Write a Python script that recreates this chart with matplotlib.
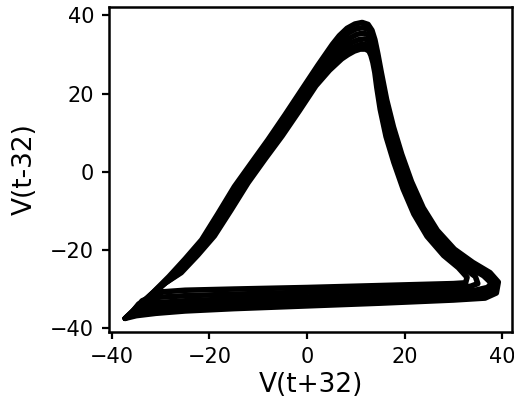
import matplotlib
matplotlib.use("Agg")
import matplotlib.pyplot as plt

# delay-embedded voltage traces (one list per cycle)
trace1_x = [-37.3, -34.5, -31.5, -28.3, -25.0, -21.6, -18.3, -14.9, -11.4, -8.0, -4.5, -1.1, 2.2, 5.2, 6.6, 8.2,
            9.8, 11.3, 12.5, 13.3, 13.9, 14.5, 15.2, 16.3, 17.7, 19.4, 21.4, 23.8, 26.7, 30.2, 34.0, 37.5, 39.2,
            38.8, 36.5, 30.0, 15.0, 0.0, -15.0, -25.0, -31.0, -35.0, -37.3]
trace1_y = [-37.5, -34.2, -30.8, -26.8, -22.3, -17.4, -10.8, -3.8, 2.3, 8.2, 14.6, 21.0, 27.2, 32.6, 34.8, 36.7,
            37.8, 38.2, 37.7, 36.2, 33.8, 30.2, 25.5, 18.5, 11.5, 4.5, -2.5, -9.2, -15.0, -19.8, -23.2, -25.8, -28.2,
            -31.0, -32.3, -32.8, -33.6, -34.3, -35.0, -35.6, -36.2, -36.8, -37.5]

trace2_x = [-37.0, -34.0, -31.0, -27.8, -24.4, -21.0, -17.7, -14.3, -10.8, -7.4, -3.9, -0.5, 2.7, 5.6, 7.0, 8.6,
            10.1, 11.5, 12.6, 13.3, 13.8, 14.3, 15.0, 16.0, 17.4, 19.0, 21.0, 23.4, 26.3, 29.8, 33.6, 37.2, 38.8,
            38.2, 35.8, 30.0, 15.0, 0.0, -15.0, -25.0, -31.0, -35.0, -37.0]
trace2_y = [-37.2, -33.8, -30.3, -26.6, -22.1, -17.2, -10.6, -3.6, 2.5, 8.4, 14.8, 21.2, 27.0, 31.9, 33.9, 35.6,
            36.6, 36.9, 36.4, 35.0, 32.7, 29.3, 24.5, 18.0, 11.0, 4.0, -3.0, -9.5, -15.3, -20.0, -23.4, -26.1, -28.4,
            -30.6, -31.6, -32.1, -32.9, -33.6, -34.3, -34.8, -35.3, -36.1, -37.2]

trace3_x = [-36.8, -33.6, -30.5, -27.3, -23.9, -20.5, -17.1, -13.7, -10.2, -6.8, -3.3, 0.1, 3.2, 6.0, 7.4, 8.9,
            10.3, 11.6, 12.6, 13.2, 13.7, 14.2, 14.8, 15.8, 17.1, 18.7, 20.7, 23.0, 25.9, 29.4, 33.2, 36.8, 38.4,
            37.7, 35.2, 30.0, 15.0, 0.0, -15.0, -25.0, -31.0, -35.0, -36.8]
trace3_y = [-37.0, -33.4, -29.8, -26.4, -21.9, -17.0, -10.4, -3.4, 2.7, 8.6, 15.0, 21.4, 26.8, 31.0, 32.8, 34.3,
            35.2, 35.5, 35.0, 33.7, 31.5, 28.2, 23.5, 17.5, 10.5, 3.6, -3.3, -9.8, -15.6, -20.3, -23.7, -26.4, -28.6,
            -30.2, -31.0, -31.4, -32.1, -32.8, -33.4, -33.9, -34.4, -35.5, -37.0]

trace4_x = [-36.5, -33.2, -30.0, -26.8, -23.4, -20.0, -16.6, -13.1, -9.6, -6.2, -2.7, 0.7, 3.7, 6.4, 7.8, 9.2,
            10.6, 11.8, 12.7, 13.2, 13.6, 14.1, 14.6, 15.5, 16.8, 18.4, 20.4, 22.6, 25.5, 29.0, 32.7, 36.2, 37.8,
            37.0, 34.5, 30.0, 15.0, 0.0, -15.0, -25.0, -31.0, -34.8, -36.5]
trace4_y = [-36.7, -33.0, -29.3, -26.2, -21.7, -16.8, -10.2, -3.2, 2.9, 8.8, 15.2, 21.6, 26.6, 30.3, 31.9, 33.1,
            33.8, 34.0, 33.5, 32.2, 30.2, 27.2, 22.8, 17.0, 10.0, 3.2, -3.6, -10.1, -15.9, -20.6, -24.0, -26.6, -28.5,
            -29.6, -30.3, -30.7, -31.4, -32.0, -32.5, -33.0, -33.5, -34.8, -36.7]

trace5_x = [-36.2, -32.8, -29.5, -26.3, -22.9, -19.5, -16.1, -12.6, -9.1, -5.6, -2.1, 1.3, 4.2, 6.8, 8.1, 9.5,
            10.8, 11.9, 12.7, 13.2, 13.6, 14.0, 14.5, 15.2, 16.5, 18.1, 20.0, 22.2, 25.0, 28.6, 32.0, 34.5, 35.0,
            33.5, 30.0, 15.0, 0.0, -15.0, -25.0, -30.5, -34.5, -36.2]
trace5_y = [-36.4, -32.6, -28.8, -26.0, -21.5, -16.6, -10.0, -3.0, 3.1, 9.0, 15.4, 21.8, 26.3, 29.5, 30.9, 31.9,
            32.5, 32.6, 32.1, 30.9, 29.0, 26.3, 22.3, 16.5, 9.5, 2.8, -4.0, -10.4, -16.2, -21.0, -24.5, -26.8, -28.6,
            -29.3, -29.6, -30.2, -30.8, -31.3, -31.7, -32.1, -33.8, -36.4]

trace6_x = [-36.0, -32.5, -29.0, -25.8, -22.4, -19.0, -15.6, -12.1, -8.6, -5.1, -1.6, 1.8, 4.6, 7.1, 8.4, 9.7,
            10.9, 12.0, 12.7, 13.1, 13.5, 13.9, 14.3, 15.0, 16.2, 17.8, 19.7, 21.9, 24.6, 28.0, 31.0, 32.8, 32.5,
            30.0, 15.0, 0.0, -15.0, -25.0, -29.5, -33.8, -36.0]
trace6_y = [-36.2, -32.3, -28.4, -25.8, -21.3, -16.4, -9.8, -2.8, 3.3, 9.2, 15.6, 22.0, 26.0, 28.9, 30.0, 30.9,
            31.4, 31.4, 30.9, 29.8, 28.0, 25.4, 21.6, 16.0, 9.0, 2.4, -4.4, -10.8, -16.5, -21.4, -24.5, -27.0, -28.4,
            -28.6, -29.1, -29.6, -30.0, -30.3, -30.7, -33.0, -36.2]

traces = [(trace1_x, trace1_y), (trace2_x, trace2_y), (trace3_x, trace3_y),
          (trace4_x, trace4_y), (trace5_x, trace5_y), (trace6_x, trace6_y)]

fig = plt.figure(figsize=(5.14, 4.03), dpi=100)
ax = fig.add_axes([0.213, 0.176, 0.783, 0.807])

for xs, ys in traces:
    ax.plot(xs, ys, color="black", lw=4.0, solid_joinstyle="round", solid_capstyle="round")

ax.set_xlim(-40.5, 42)
ax.set_ylim(-41, 42.2)
ax.set_xticks([-40, -20, 0, 20, 40])
ax.set_yticks([-40, -20, 0, 20, 40])
ax.set_xlabel("V(t+32)", fontsize=19, labelpad=3)
ax.set_ylabel("V(t-32)", fontsize=19, labelpad=9)
ax.tick_params(labelsize=15, width=1.6, length=5, pad=6)
for s in ax.spines.values():
    s.set_linewidth(1.8)

fig.savefig("out.png", dpi=100)
